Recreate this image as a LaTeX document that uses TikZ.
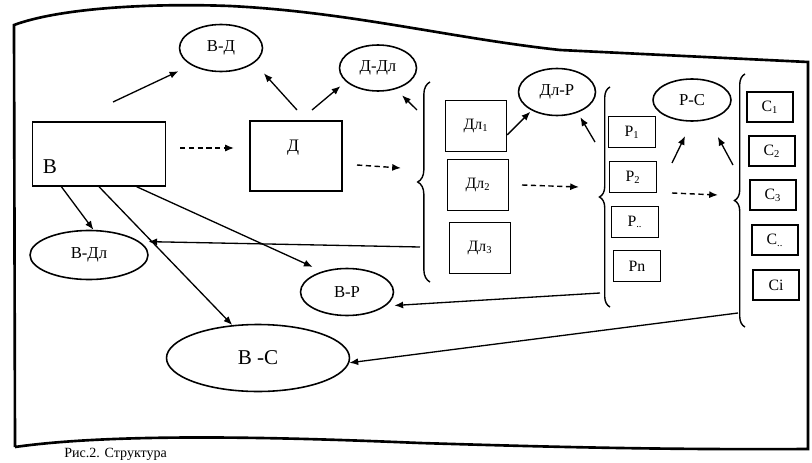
\documentclass[tikz,border=0pt]{standalone}
\usepackage{fontspec}
\setmainfont{Liberation Serif}
\usetikzlibrary{shapes.geometric,arrows.meta,decorations.pathreplacing}

\begin{document}
\begin{tikzpicture}[x=0.02cm,y=-0.02cm,>={Latex[length=5pt,width=4pt]},
    bracel/.style={decorate,decoration={brace,amplitude=#1},line width=0.8pt},
    dasharr/.style={draw,->,dash pattern=on 3pt off 2pt,line width=0.8pt}]

      \useasboundingbox (0,0) rectangle (812,463);

      % outer sheet
      \draw[line width=1.5pt] (15,447) -- (14,25)
        .. controls (60,8) and (150,3) .. (230,6)
        .. controls (350,12) and (450,38) .. (560,50) -- (808,62) -- (808,449)
        .. controls (650,450) and (520,446) .. (420,443)
        .. controls (300,438) and (120,432) .. (15,447);
      \node[anchor=south west,inner sep=0pt,font=\fontsize{8}{9}\selectfont] (cap) at (64,461) {Рис.2. Структура};

      \begin{scope}[every node/.style={rectangle,draw,line width=0.8pt,inner sep=1pt,
          font=\fontsize{9}{10}\selectfont}]
        \node[minimum width=2.66cm,minimum height=1.28cm] (B) at (99,154) {};
        \node[minimum width=1.84cm,minimum height=1.4cm]  (D) at (296,156) {};
        \node[minimum width=1.22cm,minimum height=1.02cm] (Dl1) at (476,126) {Дл\textsubscript{1}};
        \node[minimum width=1.22cm,minimum height=1.02cm] (Dl2) at (478,185) {Дл\textsubscript{2}};
        \node[minimum width=1.22cm,minimum height=1.02cm] (Dl3) at (480,248) {Дл\textsubscript{3}};
        \node[minimum width=0.94cm,minimum height=0.62cm] (P1) at (632,132) {Р\textsubscript{1}};
        \node[minimum width=0.94cm,minimum height=0.62cm] (P2) at (633,177) {Р\textsubscript{2}};
        \node[minimum width=0.94cm,minimum height=0.62cm] (Pd) at (635,222) {Р\textsubscript{..}};
        \node[minimum width=0.94cm,minimum height=0.62cm] (Pn) at (637,266) {Рn};
        \node[minimum width=0.92cm,minimum height=0.6cm] (C1) at (770,107) {С\textsubscript{1}};
        \node[minimum width=0.92cm,minimum height=0.6cm] (C2) at (772,151) {С\textsubscript{2}};
        \node[minimum width=0.92cm,minimum height=0.6cm] (C3) at (773,195) {С\textsubscript{3}};
        \node[minimum width=0.92cm,minimum height=0.6cm] (Cd) at (775,240) {С\textsubscript{..}};
        \node[minimum width=0.92cm,minimum height=0.6cm] (Ci) at (776,285) {Сi};
      \end{scope}
      \node[font=\fontsize{12}{14}\selectfont] (Btext) at (50,167) {В};
      \node[font=\fontsize{10}{12}\selectfont] (Dtext) at (293,148) {Д};

      \begin{scope}[every node/.style={ellipse,draw,line width=0.9pt,inner sep=0pt,
          font=\fontsize{9.5}{11}\selectfont}]
        \node[minimum width=1.66cm,minimum height=0.94cm] (BD)  at (221,48)  {В-Д};
        \node[minimum width=1.54cm,minimum height=0.92cm] (DDl) at (378,68)  {Д-Дл};
        \node[minimum width=1.54cm,minimum height=0.94cm] (DlP) at (557,92)  {Дл-Р};
        \node[minimum width=1.56cm,minimum height=0.84cm] (PC)  at (692,100) {Р-С};
        \node[minimum width=2.36cm,minimum height=0.98cm] (BDl) at (89,255)  {В-Дл};
        \node[minimum width=1.86cm,minimum height=0.94cm] (BP)  at (347,292) {В-Р};
        \node[minimum width=3.66cm,minimum height=1.34cm,font=\fontsize{12}{14}\selectfont] (BC) at (258,358) {В -С};
      \end{scope}

      % braces
      \draw[bracel=7pt] (430,282) -- (430,82);
      \draw[bracel=6pt] (610,307) -- (610,87);
      \draw[bracel=6pt] (745,327) -- (745,74);

      % free ends
      \coordinate (a1) at (113,102);
      \coordinate (a2) at (297,110);
      \coordinate (a3) at (312,110);
      \coordinate (a4) at (417,110);
      \coordinate (a5) at (595,142);
      \coordinate (a6) at (672,163);
      \coordinate (a7) at (733,165);
      \coordinate (b1) at (420,247);
      \coordinate (b2) at (600,293);
      \coordinate (b3) at (738,313);
      \coordinate (s1) at (180,148);
      \coordinate (e1) at (234,148);
      \coordinate (s2) at (357,165);
      \coordinate (e2) at (401,168);
      \coordinate (s3) at (522,185);
      \coordinate (e3) at (579,187);
      \coordinate (s4) at (672,193);
      \coordinate (e4) at (718,195);

      \begin{scope}[every edge/.style={draw,->,line width=0.75pt}]
        \path (a1)     edge[shorten >=8pt]  (BD.210);
        \path (a2)     edge[shorten >=8pt]  (BD.-24);
        \path (a3)     edge[shorten >=4pt]  (DDl.203);
        \path (a4)     edge[shorten >=5pt]  (DDl.-50);
        \path (Dl1.-16) edge[shorten >=1pt] (DlP.216);
        \path (a5)     edge[shorten >=3pt]  (DlP.-45);
        \path (a6)     edge[shorten >=9pt]  (PC.-90);
        \path (a7)     edge[shorten >=11pt] (PC.-50);
        \path (B.221)  edge (BDl.80);
        \path (B.south) edge (BC.128);
        \path (B.-41)  edge[shorten >=6pt]  (BP.140);
        \path (b1)     edge[shorten >=5pt]  (BDl.15);
        \path (b2)     edge[shorten >=5pt]  (BP.-20);
        \path (b3)     edge (BC.-3);
      \end{scope}

      \path[dasharr] (s1) -- (e1);
      \path[dasharr] (s2) -- (e2);
      \path[dasharr] (s3) -- (e3);
      \path[dasharr] (s4) -- (e4);

    \end{tikzpicture}
\end{document}
